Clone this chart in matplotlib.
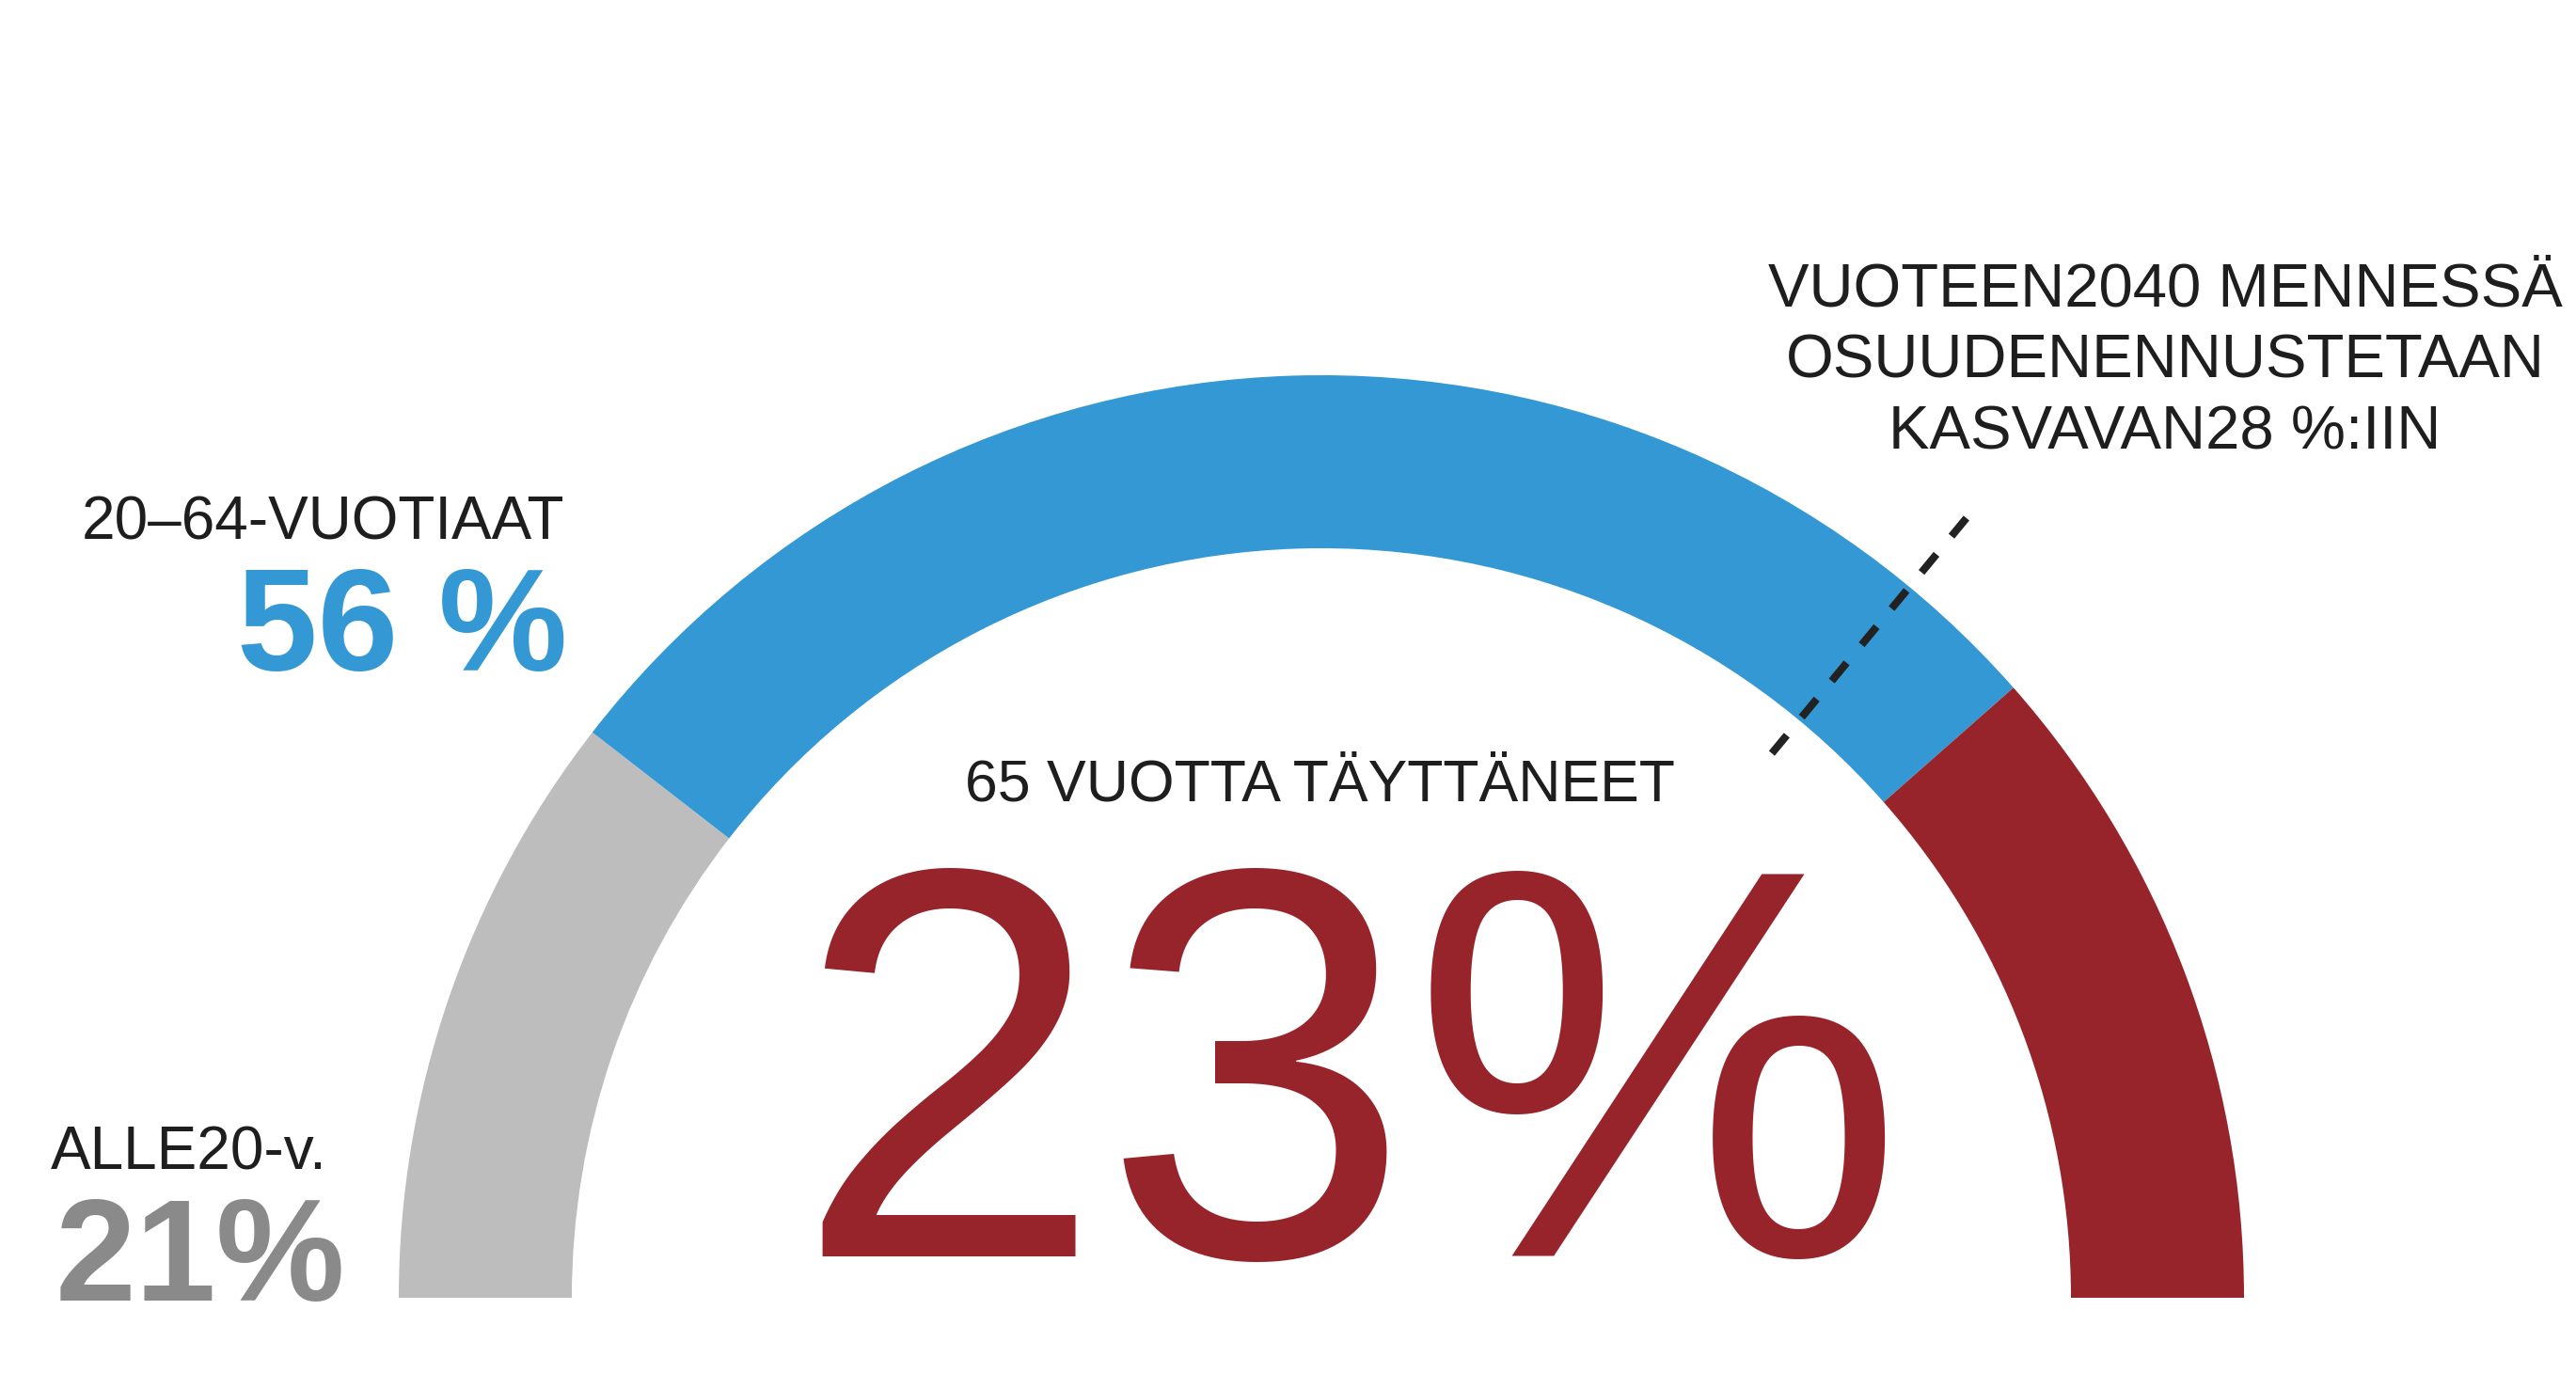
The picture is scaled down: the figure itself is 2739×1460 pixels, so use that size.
import numpy as np
import matplotlib
matplotlib.use("Agg")
import matplotlib.pyplot as plt

# population shares (%), left to right along the half ring
groups = ["ALLE20-v.", "20\u201364-VUOTIAAT", "65 VUOTTA T\u00c4YTT\u00c4NEET"]
shares = [21, 56, 23]
colors = ["#bdbdbd", "#3398d4", "#97242b"]
forecast_2040 = 28  # projected share of 65+ by 2040

note_lines = ["VUOTEEN2040 MENNESS\u00c4", "OSUUDENENNUSTETAAN", "KASVAVAN28 %:IIN"]

W, H = 2739, 1460
plt.rcParams['font.family'] = ['Liberation Sans', 'DejaVu Sans']

fig = plt.figure(figsize=(W / 100, H / 100), dpi=100)
ax = fig.add_axes([0, 0, 1, 1])

# ring geometry in pixel units
cx, cy = 1405, 80
r_out, r_in = 981, 797

# half ring: a pie where the lower half is an invisible wedge
vals = shares + [sum(shares)]
ax.pie(vals, colors=colors + ["none"], startangle=180, counterclock=False,
       radius=r_out, center=(cx, cy), labeldistance=None,
       wedgeprops=dict(width=r_out - r_in, edgecolor="none", linewidth=0))

# dashed marker for the 2040 forecast (drawn from the outside in)
ang = np.deg2rad(forecast_2040 / 100 * 180)
rr = np.array([1076, 750])
ax.plot(cx + rr * np.cos(ang), cy + rr * np.sin(ang), color="#222222",
        lw=5.8, dashes=(3.1, 3.1), dash_capstyle="butt", zorder=5)

ax.set_xlim(0, W)
ax.set_ylim(0, H)
ax.set_aspect("auto")
ax.axis("off")

dark = "#1e1e1e"

# left labels
ax.text(600, H - 573, groups[1], ha="right", va="baseline", fontsize=46, color=dark)
ax.text(603, H - 713, f"{shares[1]} %", ha="right", va="baseline", fontsize=111,
        fontweight="bold", color="#3398d4")

ax.text(54, H - 1244, groups[0], ha="left", va="baseline", fontsize=46, color=dark)
ax.text(59, H - 1383, f"{shares[0]}%", ha="left", va="baseline", fontsize=111,
        fontweight="bold", color="#8a8a8a")

# centre label
ax.text(1403, H - 851, groups[2], ha="center", va="baseline", fontsize=45, color=dark)
big = ax.text(1435, H - 1378, f"{shares[2]}%", ha="center", va="baseline", fontsize=425,
              color="#97242b")

# keep the big number's box inside the canvas
r = fig.canvas.get_renderer()
bb = big.get_window_extent(renderer=r)
if bb.y0 < 1:
    big.set_y(big.get_position()[1] + (1 - bb.y0))

# forecast note
for i, line in enumerate(note_lines):
    ax.text(2302, H - 325 - 76 * i, line, ha="center", va="baseline", fontsize=47, color=dark)

fig.savefig("out.png", dpi=100, facecolor="white")
